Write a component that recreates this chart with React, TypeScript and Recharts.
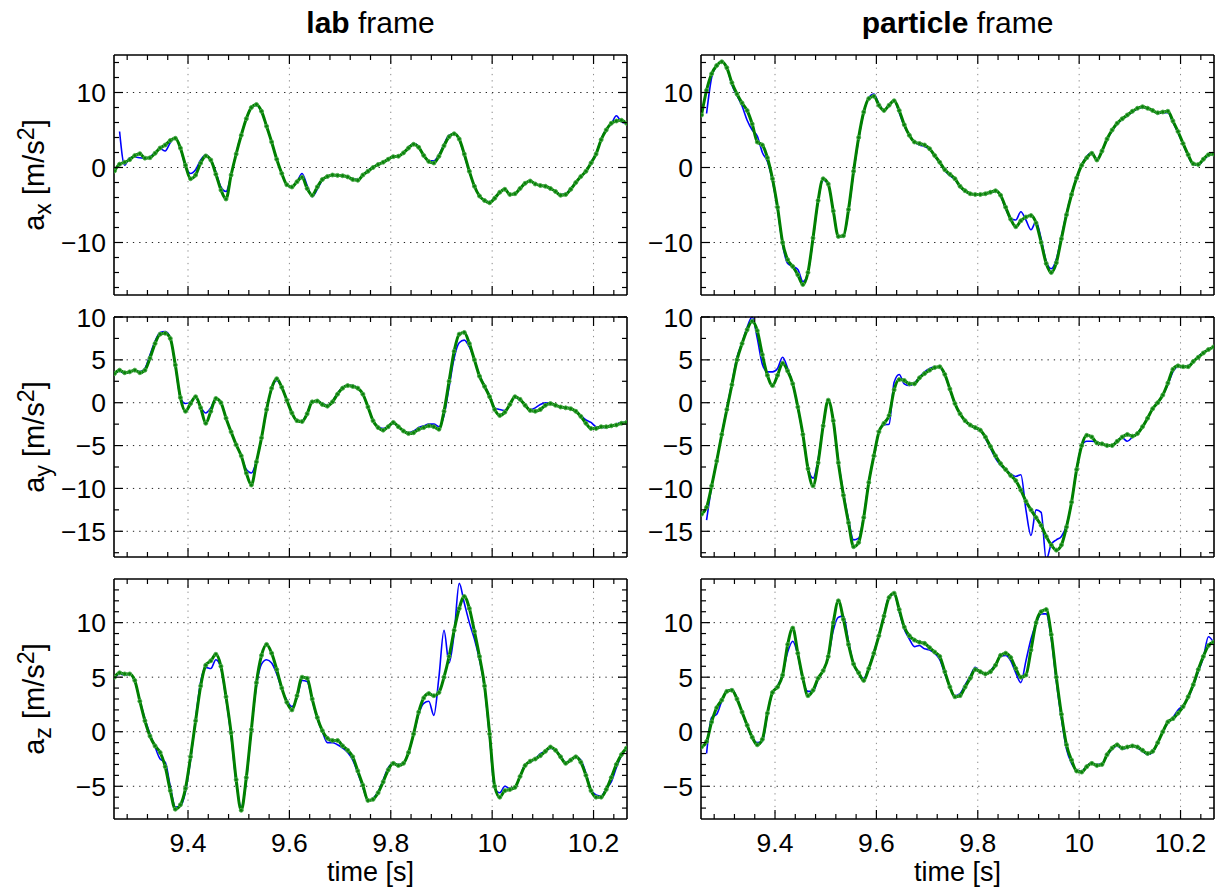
import React from 'react';
import { LineChart, Line, XAxis, YAxis, CartesianGrid } from 'recharts';

const FONT = '"Liberation Sans", Arial, Helvetica, sans-serif';

const time = [
  9.255, 9.265, 9.275, 9.285, 9.295, 9.305, 9.315, 9.325, 9.335, 9.345,
  9.355, 9.365, 9.375, 9.385, 9.395, 9.405, 9.415, 9.425, 9.435, 9.445,
  9.455, 9.465, 9.475, 9.485, 9.495, 9.505, 9.515, 9.525, 9.535, 9.545,
  9.555, 9.565, 9.575, 9.585, 9.595, 9.605, 9.615, 9.625, 9.635, 9.645,
  9.655, 9.665, 9.675, 9.685, 9.695, 9.705, 9.715, 9.725, 9.735, 9.745,
  9.755, 9.765, 9.775, 9.785, 9.795, 9.805, 9.815, 9.825, 9.835, 9.845,
  9.855, 9.865, 9.875, 9.885, 9.895, 9.905, 9.915, 9.925, 9.935, 9.945,
  9.955, 9.965, 9.975, 9.985, 9.995, 10.005, 10.015, 10.025, 10.035, 10.045,
  10.055, 10.065, 10.075, 10.085, 10.095, 10.105, 10.115, 10.125, 10.135, 10.145,
  10.155, 10.165, 10.175, 10.185, 10.195, 10.205, 10.215, 10.225, 10.235, 10.245,
  10.255, 10.265,
];

// lab frame a_x
const labAxGreen = [
  -0.45, 0.45, 0.7, 1.05, 1.6, 1.85, 1.25, 1.3, 1.9, 2.6,
  3.0, 3.6, 3.9, 2.6, 0.3, -1.5, -1.0, 0.6, 1.55, 1.0,
  -0.9, -3.0, -4.2, -1.0, 1.8, 4.3, 6.5, 8.0, 8.4, 7.5,
  5.5, 3.4, 1.1, -0.8, -2.3, -2.6, -1.9, -1.3, -2.8, -3.7,
  -2.6, -1.6, -1.2, -1.0, -1.05, -1.1, -1.25, -1.6, -1.7, -1.0,
  -0.5, 0.0, 0.4, 0.7, 1.1, 1.45, 1.5, 1.95, 2.6, 3.1,
  2.7, 1.6, 0.8, 0.6, 1.5, 2.9, 4.1, 4.5, 3.8, 1.8,
  -0.5, -2.5, -3.8, -4.4, -4.7, -4.1, -3.3, -2.9, -3.6, -3.5,
  -2.8, -2.1, -1.8, -2.2, -2.4, -2.5, -2.8, -3.2, -3.7, -3.6,
  -2.9, -2.0, -1.2, -0.5, 0.6, 1.8, 3.7, 5.0, 5.9, 6.2,
  6.3, 5.9,
];
const labAxBlue = [
  null, 4.8, 0.3, 1.3, 1.4, 1.3, 1.2, 1.4, 2.0, 2.5,
  2.2, 3.3, 4.0, 2.5, 0.2, -0.8, -0.3, 1.0, 1.7, 1.0,
  -0.6, -2.6, -3.2, -1.0, 1.9, 4.4, 6.5, 8.0, 8.3, 7.4,
  5.5, 3.4, 1.1, -0.8, -2.3, -2.6, -1.9, -0.8, -2.4, -3.9,
  -2.9, -1.7, -1.2, -1.05, -1.1, -1.1, -1.25, -1.5, -1.6, -1.0,
  -0.4, 0.1, 0.4, 0.7, 1.1, 1.45, 1.5, 1.95, 2.7, 3.2,
  2.8, 1.6, 0.9, 0.9, 1.7, 3.1, 4.3, 4.5, 3.7, 1.6,
  -0.6, -2.5, -3.8, -4.4, -4.6, -4.0, -3.3, -2.9, -3.6, -3.5,
  -2.8, -2.1, -1.8, -2.2, -2.4, -2.5, -2.8, -3.2, -3.6, -3.5,
  -2.8, -2.0, -1.2, -0.5, 0.7, 1.9, 3.8, 5.1, 5.8, 6.9,
  6.1, 5.9,
];

// particle frame a_x
const partAxGreen = [
  7.0, 10.3, 12.5, 13.6, 14.1, 13.3, 11.3, 9.8, 8.6, 7.6,
  5.8, 3.4, 3.0, 1.3, -1.5, -5.3, -10.0, -12.3, -13.2, -14.3,
  -15.6, -14.0, -9.4, -4.4, -1.5, -2.2, -5.8, -9.2, -9.1, -5.6,
  -0.5, 4.0, 7.4, 9.2, 9.5, 8.3, 7.6, 8.3, 8.9, 7.6,
  5.7, 4.3, 3.4, 3.2, 3.0, 2.5, 1.6, 0.7, -0.3, -0.9,
  -1.5, -2.5, -3.1, -3.5, -3.6, -3.6, -3.5, -3.3, -3.1, -3.7,
  -5.3, -6.9, -7.9, -7.1, -6.6, -6.4, -7.4, -10.0, -12.8, -14.0,
  -12.7, -9.5, -6.3, -3.6, -1.4, 0.3, 1.3, 1.9, 1.0, 2.2,
  3.8, 5.0, 5.9, 6.5, 7.0, 7.5, 7.9, 8.1, 7.9, 7.6,
  7.3, 7.4, 7.5, 6.2, 4.8, 3.2, 1.7, 0.5, 0.4, 1.1,
  1.7, 1.8,
];
const partAxBlue = [
  null, 7.2, 12.0, 13.6, 14.1, 13.3, 11.0, 9.6, 8.2, 6.3,
  5.0, 4.2, 2.0, 0.8, -1.8, -5.6, -10.3, -12.8, -13.2, -13.6,
  -15.2, -14.0, -9.6, -4.5, -1.7, -2.3, -5.8, -9.2, -9.2, -5.8,
  -0.7, 3.8, 7.3, 9.3, 9.8, 8.5, 7.6, 8.4, 8.9, 7.3,
  5.5, 4.3, 3.4, 3.0, 2.8, 2.4, 1.5, 0.6, -0.4, -1.1,
  -1.6, -2.6, -3.2, -3.5, -3.6, -3.6, -3.5, -3.3, -3.2, -3.8,
  -5.5, -6.8, -7.0, -5.9, -7.0, -8.3, -7.2, -9.5, -12.5, -13.5,
  -12.2, -9.2, -6.1, -3.5, -1.3, 0.4, 1.5, 2.0, 1.1, 2.2,
  3.7, 4.9, 5.8, 6.4, 6.9, 7.4, 7.8, 8.0, 7.9, 7.6,
  7.2, 7.3, 7.3, 6.0, 4.6, 3.1, 1.5, 0.4, 0.3, 1.0,
  1.6, 1.8,
];

// lab frame a_y
const labAyGreen = [
  3.4, 3.8, 3.5, 3.6, 3.8, 3.5, 3.8, 5.2, 6.9, 8.0,
  8.1, 7.5, 4.4, 0.6, -1.0, -0.1, 0.7, -0.6, -2.4, -1.0,
  0.5, 0.0, -1.8, -3.4, -4.9, -6.2, -8.2, -9.6, -6.9, -4.1,
  -0.8, 1.7, 2.8, 1.8, 0.3, -1.2, -2.1, -2.2, -1.3, 0.1,
  0.2, -0.2, -0.4, 0.1, 1.0, 1.7, 2.0, 1.9, 1.7, 1.0,
  -0.5, -2.1, -2.9, -3.2, -2.8, -2.3, -2.8, -3.3, -3.6, -3.5,
  -3.1, -2.9, -2.7, -2.8, -3.1, -1.0, 2.5, 6.0, 8.0, 8.2,
  6.9, 5.0, 3.1, 1.9, 0.7, -0.8, -1.5, -1.1, -0.2, 0.7,
  0.4, -0.3, -0.9, -1.0, -0.8, -0.3, -0.1, -0.3, -0.5, -0.6,
  -0.7, -1.0, -1.6, -2.4, -3.0, -3.0, -2.8, -2.8, -2.7, -2.6,
  -2.4, -2.3,
];
const labAyBlue = [
  3.3, 3.7, 3.4, 3.6, 3.8, 3.6, 4.0, 5.6, 7.2, 8.2,
  8.3, 7.6, 4.3, 0.6, -0.1, 0.1, 0.6, -0.5, -1.2, -0.6,
  0.5, 0.0, -1.8, -3.4, -4.9, -6.2, -7.8, -8.2, -6.8, -4.1,
  -0.9, 1.6, 2.6, 1.8, 0.3, -1.2, -2.1, -2.1, -1.2, 0.2,
  0.2, -0.1, -0.3, 0.2, 1.1, 1.8, 2.0, 2.0, 1.7, 1.0,
  -0.5, -2.1, -2.8, -3.0, -2.8, -2.4, -2.8, -3.3, -3.5, -3.3,
  -2.9, -2.7, -2.5, -2.5, -2.8, -1.5, 1.8, 5.2, 7.0, 7.3,
  6.5, 5.0, 3.2, 2.0, 0.8, -0.6, -0.8, -0.9, -0.2, 0.6,
  0.3, -0.3, -0.8, -0.6, -0.2, 0.0, -0.1, -0.3, -0.5, -0.6,
  -0.7, -1.0, -1.5, -2.0, -2.3, -2.8, -2.9, -2.9, -2.7, -2.5,
  -2.3, -2.3,
];

// particle frame a_y
const partAyGreen = [
  -13.0, -12.2, -9.7, -6.8, -3.7, -0.8, 2.1, 5.0, 6.9, 8.5,
  9.5, 8.4, 5.6, 3.2, 2.0, 3.2, 4.6, 3.7, 2.2, -0.5,
  -3.7, -7.7, -9.7, -7.0, -2.7, 0.3, -2.1, -7.0, -10.8, -14.0,
  -16.8, -16.3, -13.4, -9.3, -6.2, -3.4, -2.4, -1.5, 1.5, 2.7,
  2.6, 2.2, 2.2, 2.9, 3.4, 3.8, 4.1, 4.2, 3.3, 1.6,
  -0.1, -1.3, -2.1, -2.6, -2.9, -3.2, -4.0, -5.1, -6.2, -7.1,
  -7.8, -8.5, -9.1, -10.2, -11.5, -12.5, -13.4, -14.3, -15.6, -16.6,
  -17.2, -16.6, -14.5, -11.6, -7.8, -5.0, -3.8, -4.0, -4.7, -4.8,
  -5.0, -5.0, -4.5, -4.0, -3.7, -3.9, -3.6, -2.8, -1.8, -0.7,
  0.0, 0.9, 2.3, 3.9, 4.3, 4.2, 4.2, 4.8, 5.3, 5.8,
  6.2, 6.5,
];
const partAyBlue = [
  null, -13.7, -9.8, -6.8, -3.6, -0.6, 2.3, 5.3, 7.0, 8.8,
  10.0, 7.5, 4.5, 3.6, 3.6, 4.0, 5.3, 4.0, 2.2, -0.6,
  -3.8, -7.5, -8.8, -6.6, -2.6, 0.3, -2.0, -6.8, -10.5, -13.6,
  -16.0, -15.8, -13.2, -9.2, -6.2, -3.4, -2.6, -2.5, 2.4, 3.3,
  2.2, 2.0, 2.3, 3.0, 3.6, 4.0, 4.2, 4.1, 3.2, 1.5,
  -0.2, -1.3, -2.2, -2.6, -3.0, -3.2, -4.2, -5.3, -6.5, -7.3,
  -7.8, -8.3, -8.6, -8.4, -12.5, -15.5, -12.5, -12.8, -18.3, -16.5,
  -16.0, -15.6, -14.3, -11.6, -7.7, -5.0, -4.5, -4.5, -4.6, -4.8,
  -5.0, -5.0, -4.4, -4.1, -4.5, -4.0, -3.5, -2.8, -1.8, -0.7,
  0.0, 0.9, 2.1, 3.6, 4.2, 4.2, 4.3, 4.8, 5.4, 5.9,
  6.2, 6.5,
];

// lab frame a_z
const labAzGreen = [
  5.0, 5.4, 5.3, 5.3, 4.7, 2.8, 1.0, -0.4, -1.3, -1.9,
  -3.2, -5.4, -7.1, -6.7, -5.2, -2.3, 1.0, 4.2, 6.1, 6.5,
  7.1, 6.0, 3.2, -0.1, -4.4, -7.2, -4.2, 0.2, 4.5, 7.0,
  8.0, 7.2, 5.7, 4.0, 2.7, 2.0, 3.3, 5.0, 4.9, 3.0,
  1.3, 0.1, -0.6, -0.8, -0.8, -1.3, -1.7, -2.3, -3.6, -4.9,
  -6.3, -6.2, -5.6, -4.6, -3.5, -2.9, -3.1, -2.9, -1.9, -0.2,
  1.8, 3.1, 3.5, 3.3, 3.6, 5.0, 6.9, 9.3, 11.3, 12.4,
  11.3, 9.2, 6.9, 4.2, -0.2, -5.0, -6.0, -5.4, -5.3, -5.1,
  -4.1, -3.1, -2.7, -2.5, -2.2, -1.8, -1.4, -1.7, -2.3, -2.9,
  -2.6, -2.3, -2.8, -4.0, -5.4, -6.0, -6.0, -5.3, -4.2, -3.0,
  -2.1, -1.5,
];
const labAzBlue = [
  4.9, 5.3, 5.2, 5.3, 4.6, 2.9, 1.2, -0.2, -1.4, -2.5,
  -2.8, -5.0, -6.9, -6.8, -5.5, -2.6, 1.2, 4.6, 5.9, 5.8,
  6.6, 5.8, 3.0, -0.4, -4.6, -6.9, -4.5, 0.2, 4.2, 6.2,
  6.6, 6.3, 5.3, 3.9, 2.9, 2.3, 3.1, 4.7, 4.6, 2.9,
  1.2, 0.0, -1.0, -1.0, -1.2, -1.5, -1.9, -2.6, -3.8, -5.1,
  -6.3, -6.1, -5.5, -4.4, -3.3, -2.9, -3.0, -2.9, -1.9, -0.3,
  1.6, 2.6, 2.8, 1.5, 5.0, 9.3, 6.3, 9.0, 13.6, 11.8,
  10.0, 8.5, 6.6, 4.0, -0.5, -5.2, -5.6, -5.0, -5.2, -5.1,
  -4.1, -3.0, -2.8, -2.5, -2.0, -1.8, -1.5, -1.7, -2.2, -2.8,
  -2.6, -2.3, -2.6, -3.8, -5.3, -5.8, -5.9, -5.2, -4.6, -3.3,
  -2.2, -1.5,
];

// particle frame a_z
const partAzGreen = [
  -1.4, -0.9, 0.9, 2.2, 2.9, 3.7, 3.8, 3.0, 1.8, 0.6,
  -0.5, -1.2, -0.7, 1.7, 3.6, 4.1, 5.2, 8.0, 9.5, 7.2,
  4.9, 3.3, 3.8, 4.9, 5.6, 6.9, 10.0, 12.0, 10.3, 8.0,
  6.2, 5.4, 4.7, 5.8, 7.2, 8.8, 10.6, 12.3, 12.7, 11.2,
  9.6, 8.8, 8.4, 8.2, 8.1, 7.7, 7.3, 6.9, 5.5, 4.1,
  3.2, 3.3, 4.1, 4.9, 5.7, 5.5, 5.3, 5.5, 6.1, 7.0,
  7.2, 6.8, 5.8, 5.0, 5.2, 7.5, 10.0, 11.0, 11.2, 8.9,
  5.0, 1.6, -1.2, -2.6, -3.6, -3.7, -3.2, -2.9, -3.1, -3.0,
  -2.1, -1.5, -1.2, -1.5, -1.4, -1.3, -1.4, -1.7, -2.0, -1.8,
  -1.0, 0.0, 0.9, 1.2, 1.7, 2.3, 3.2, 4.3, 5.7, 6.9,
  7.9, 8.2,
];
const partAzBlue = [
  null, -2.0, 1.3, 1.6, 2.8, 3.7, 3.9, 3.1, 1.8, 0.5,
  -0.6, -1.0, -0.9, 1.6, 3.6, 4.2, 5.3, 7.3, 8.3, 7.0,
  4.7, 3.7, 3.7, 4.8, 5.6, 6.8, 9.3, 10.5, 10.6, 8.3,
  6.2, 5.3, 4.9, 5.9, 7.3, 8.9, 10.7, 12.4, 12.6, 11.0,
  9.4, 8.5, 7.8, 7.9, 7.6, 7.5, 7.2, 6.6, 5.3, 4.1,
  3.3, 3.5, 4.3, 5.1, 5.9, 5.4, 5.3, 5.6, 6.2, 6.9,
  7.0, 6.5, 5.4, 4.5, 6.5, 8.5, 9.9, 10.8, 10.8, 8.5,
  4.6, 1.2, -1.6, -2.9, -3.5, -3.6, -3.1, -2.9, -3.0, -2.9,
  -2.2, -1.6, -1.3, -1.6, -1.5, -1.3, -1.5, -1.8, -2.1, -1.9,
  -1.0, 0.0, 0.8, 1.3, 2.0, 2.4, 3.1, 4.2, 5.5, 6.8,
  8.7, 8.2,
];

const X_DOMAIN: [number, number] = [9.254, 10.266];
const xMajorTicks = [9.4, 9.6, 9.8, 10, 10.2];
const xMinorTicks = [
  9.28, 9.32, 9.36, 9.44, 9.48, 9.52, 9.56, 9.64, 9.68, 9.72, 9.76,
  9.84, 9.88, 9.92, 9.96, 10.04, 10.08, 10.12, 10.16, 10.24,
];

const row1Domain: [number, number] = [-17, 15];
const row1Major = [-10, 0, 10];
const row1Minor = [-16, -14, -12, -8, -6, -4, -2, 2, 4, 6, 8, 12, 14];
const row2Domain: [number, number] = [-18, 10];
const row2Major = [-15, -10, -5, 0, 5, 10];
const row2Minor = [-17.5, -12.5, -7.5, -2.5, 2.5, 7.5];
const row3Domain: [number, number] = [-8, 14];
const row3Major = [-5, 0, 5, 10];
const row3Minor = [-7, -6, -4, -3, -2, -1, 1, 2, 3, 4, 6, 7, 8, 9, 11, 12, 13];

const PLOT_W = 513;
const PLOT_H = 240;
const ML = 80;
const MR = 12;
const MT = 20;
const MB = 52;
const COL_LEFT = [114, 701];
const ROW_TOP = [55, 317, 579];
const TICK_FONT = 26.5;
const MAJOR_LEN = 9;
const MINOR_LEN = 5;

const fmt = (v: number) => String(v).replace('-', '\u2212');
const axisLineStyle = { stroke: '#000', strokeWidth: 1.6 };
const isIn = (list: number[], v: number) => list.some((m) => Math.abs(m - v) < 1e-6);

function makeXTick(side: 'bottom' | 'top', showLabels: boolean) {
  return (props: any) => {
    const { x, y, payload } = props;
    const v = payload.value as number;
    const major = isIn(xMajorTicks, v);
    const len = major ? MAJOR_LEN : MINOR_LEN;
    const dir = side === 'bottom' ? -1 : 1;
    return (
      <g>
        <line x1={x} y1={y} x2={x} y2={y + dir * len} stroke="#000" strokeWidth={1.2} />
        {showLabels && major && side === 'bottom' ? (
          <text x={x} y={y + 33} textAnchor="middle" fontSize={TICK_FONT} fontFamily={FONT} fill="#000">
            {fmt(v)}
          </text>
        ) : null}
      </g>
    );
  };
}

function makeYTick(side: 'left' | 'right', majors: number[]) {
  return (props: any) => {
    const { x, y, payload } = props;
    const v = payload.value as number;
    const major = isIn(majors, v);
    const len = major ? MAJOR_LEN : MINOR_LEN;
    const dir = side === 'left' ? 1 : -1;
    return (
      <g>
        <line x1={x} y1={y} x2={x + dir * len} y2={y} stroke="#000" strokeWidth={1.2} />
        {major && side === 'left' ? (
          <text x={x - 8} y={y} dy="0.36em" textAnchor="end" fontSize={TICK_FONT} fontFamily={FONT} fill="#000">
            {fmt(v)}
          </text>
        ) : null}
      </g>
    );
  };
}

type PanelProps = {
  col: number;
  row: number;
  blue: (number | null)[];
  green: number[];
  yDomain: [number, number];
  yMajor: number[];
  yMinor: number[];
  showXLabels: boolean;
};

function Panel({ col, row, blue, green, yDomain, yMajor, yMinor, showXLabels }: PanelProps) {
  const data = time.map((t, i) => ({ t, blue: blue[i], green: green[i] }));
  const xAll = [...xMajorTicks, ...xMinorTicks].sort((a, b) => a - b);
  const yAll = [...yMajor, ...yMinor].sort((a, b) => a - b);
  return (
    <div style={{ position: 'absolute', left: COL_LEFT[col] - ML, top: ROW_TOP[row] - MT }}>
      <LineChart
        width={ML + PLOT_W + MR}
        height={MT + PLOT_H + MB}
        data={data}
        margin={{ top: MT - 1, right: MR - 1, bottom: MB - 1, left: ML - 1 }}
      >
        <CartesianGrid
          xAxisId="x" yAxisId="y" vertical={false} horizontalValues={yMajor}
          stroke="#222" strokeDasharray="1.3 5"
        />
        <CartesianGrid
          xAxisId="x" yAxisId="y" horizontal={false} verticalValues={xMajorTicks}
          stroke="#8a8a8a" strokeDasharray="1.3 5"
        />
        <Line
          xAxisId="x" yAxisId="y" dataKey="blue" type="monotone" stroke="#0000ff"
          strokeWidth={1.6} dot={false} isAnimationActive={false}
        />
        <Line
          xAxisId="x" yAxisId="y" dataKey="green" type="monotone" stroke="#008000"
          strokeWidth={3} dot={{ r: 2, fill: '#0a800a', stroke: '#4fae4f', strokeWidth: 0.9 }}
          isAnimationActive={false}
        />
        <XAxis
          xAxisId="x" dataKey="t" type="number" domain={X_DOMAIN} allowDataOverflow
          ticks={xAll} interval={0} height={1} orientation="bottom"
          tickSize={0} tickMargin={0} tickLine={false} axisLine={axisLineStyle}
          tick={makeXTick('bottom', showXLabels)}
        />
        <XAxis
          xAxisId="xt" dataKey="t" type="number" domain={X_DOMAIN} allowDataOverflow
          ticks={xAll} interval={0} height={1} orientation="top"
          tickSize={0} tickMargin={0} tickLine={false} axisLine={axisLineStyle}
          tick={makeXTick('top', false)}
        />
        <YAxis
          yAxisId="y" type="number" domain={yDomain} allowDataOverflow
          ticks={yAll} interval={0} width={1} orientation="left"
          tickSize={0} tickMargin={0} tickLine={false} axisLine={axisLineStyle}
          tick={makeYTick('left', yMajor)}
        />
        <YAxis
          yAxisId="yr" type="number" domain={yDomain} allowDataOverflow
          ticks={yAll} interval={0} width={1} orientation="right"
          tickSize={0} tickMargin={0} tickLine={false} axisLine={axisLineStyle}
          tick={makeYTick('right', yMajor)}
        />
      </LineChart>
    </div>
  );
}

function YLabel({ row, sub }: { row: number; sub: string }) {
  return (
    <div
      style={{
        position: 'absolute', left: 35, top: ROW_TOP[row] + PLOT_H / 2,
        transform: 'translate(-50%, -50%) rotate(-90deg)', fontSize: 29,
        whiteSpace: 'nowrap', fontFamily: FONT, lineHeight: 1, color: '#000',
      }}
    >
      a<sub style={{ fontSize: '0.8em' }}>{sub}</sub> [m/s<sup style={{ fontSize: '0.8em' }}>2</sup>]
    </div>
  );
}

const titleStyle = (col: number): React.CSSProperties => ({
  position: 'absolute', left: COL_LEFT[col], width: PLOT_W, top: 8,
  textAlign: 'center', fontSize: 30, lineHeight: 1, color: '#000',
});
const xLabelStyle = (col: number): React.CSSProperties => ({
  position: 'absolute', left: COL_LEFT[col], width: PLOT_W, top: 859,
  textAlign: 'center', fontSize: 27, lineHeight: 1, color: '#000',
});

export default function App() {
  return (
    <div
      style={{
        position: 'absolute', left: 0, top: 0, width: 1228, height: 888,
        background: '#fff', overflow: 'hidden', fontFamily: FONT,
      }}
    >
      <div style={titleStyle(0)}><b>lab</b> frame</div>
      <div style={titleStyle(1)}><b>particle</b> frame</div>

      <Panel col={0} row={0} blue={labAxBlue} green={labAxGreen} yDomain={row1Domain} yMajor={row1Major} yMinor={row1Minor} showXLabels={false} />
      <Panel col={1} row={0} blue={partAxBlue} green={partAxGreen} yDomain={row1Domain} yMajor={row1Major} yMinor={row1Minor} showXLabels={false} />
      <Panel col={0} row={1} blue={labAyBlue} green={labAyGreen} yDomain={row2Domain} yMajor={row2Major} yMinor={row2Minor} showXLabels={false} />
      <Panel col={1} row={1} blue={partAyBlue} green={partAyGreen} yDomain={row2Domain} yMajor={row2Major} yMinor={row2Minor} showXLabels={false} />
      <Panel col={0} row={2} blue={labAzBlue} green={labAzGreen} yDomain={row3Domain} yMajor={row3Major} yMinor={row3Minor} showXLabels={true} />
      <Panel col={1} row={2} blue={partAzBlue} green={partAzGreen} yDomain={row3Domain} yMajor={row3Major} yMinor={row3Minor} showXLabels={true} />

      <YLabel row={0} sub="x" />
      <YLabel row={1} sub="y" />
      <YLabel row={2} sub="z" />

      <div style={xLabelStyle(0)}>time [s]</div>
      <div style={xLabelStyle(1)}>time [s]</div>
    </div>
  );
}
